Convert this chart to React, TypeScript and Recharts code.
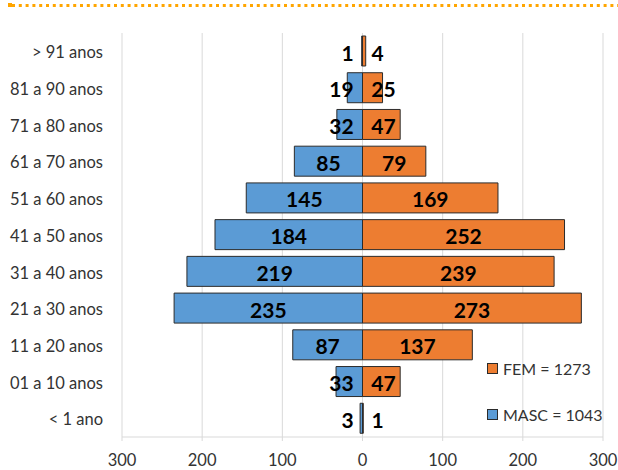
import { BarChart, Bar, XAxis, YAxis, CartesianGrid, LabelList } from "recharts";

const ageGroups = [
  "> 91 anos",
  "81 a 90 anos",
  "71 a 80 anos",
  "61 a 70 anos",
  "51 a 60 anos",
  "41 a 50 anos",
  "31 a 40 anos",
  "21 a 30 anos",
  "11 a 20 anos",
  "01 a 10 anos",
  "< 1 ano",
];
const masc = [1, 19, 32, 85, 145, 184, 219, 235, 87, 33, 3];
const fem = [4, 25, 47, 79, 169, 252, 239, 273, 137, 47, 1];
const xTicks = [-300, -200, -100, 0, 100, 200, 300];

const BLUE = "#5B9BD5";
const ORANGE = "#ED7D31";
const EDGE = "#2b2b2b";
const FONT = "Lato, 'Open Sans', sans-serif";

const data = ageGroups.map((age, i) => ({ age, masc: -masc[i], fem: fem[i] }));
const totalMasc = masc.reduce((a, b) => a + b, 0);
const totalFem = fem.reduce((a, b) => a + b, 0);

function makeLabel(values: number[], side: "left" | "right") {
  return (props: any) => {
    const { x, y, width, height, index } = props;
    const text = String(values[index]);
    const w = text.length * 12;
    const lo = Math.min(x, x + width);
    const hi = Math.max(x, x + width);
    const mid = (lo + hi) / 2;
    // small bars: push the number out past the zero line
    const cx = side === "left" ? Math.min(mid, hi - 9 - w / 2) : Math.max(mid, lo + 9 + w / 2);
    return (
      <text
        x={cx}
        y={y + height / 2 + 1}
        textAnchor="middle"
        dominantBaseline="central"
        fontFamily={FONT}
        fontWeight={700}
        fontSize={21}
        fill="#000"
      >
        {text}
      </text>
    );
  };
}

export default function App() {
  return (
    <div style={{ position: "absolute", left: 0, top: 0, width: 618, height: 470, background: "#fff" }}>
      <svg width={618} height={12} style={{ position: "absolute", left: 0, top: 0 }}>
        <rect x={8} y={3} width={4} height={4} fill="#FFA500" />
        <line x1={12} y1={5.5} x2={618} y2={5.5} stroke="#FFA500" strokeWidth={3} strokeDasharray="3 3.8" />
      </svg>
      <BarChart
        width={618}
        height={470}
        data={data}
        layout="vertical"
        stackOffset="sign"
        barSize={30}
        margin={{ top: 33, right: 15, left: 0, bottom: 0 }}
        style={{ position: "absolute", left: 0, top: 0 }}
      >
        <CartesianGrid horizontal={false} stroke="#d9d9d9" />
        <XAxis
          type="number"
          domain={[-300, 300]}
          ticks={xTicks}
          tickFormatter={(v: number) => String(Math.abs(v))}
          stroke="#d9d9d9"
          tickSize={4}
          tickMargin={13}
          height={33}
          tick={{ fill: "#333", fontSize: 16.5, fontFamily: FONT }}
        />
        <YAxis
          type="category"
          dataKey="age"
          width={122}
          axisLine={false}
          tickLine={false}
          tickMargin={13}
          tick={{ fill: "#333", fontSize: 16.5, fontFamily: FONT, dy: 1 }}
        />
        <Bar dataKey="masc" stackId="a" fill={BLUE} stroke={EDGE} strokeWidth={1} isAnimationActive={false}>
          <LabelList dataKey="masc" content={makeLabel(masc, "left")} />
        </Bar>
        <Bar dataKey="fem" stackId="a" fill={ORANGE} stroke={EDGE} strokeWidth={1} isAnimationActive={false}>
          <LabelList dataKey="fem" content={makeLabel(fem, "right")} />
        </Bar>
      </BarChart>
      <div style={{ position: "absolute", left: 487, top: 358, fontFamily: FONT, fontSize: 16, color: "#333" }}>
        <div style={{ display: "flex", alignItems: "center", height: 20 }}>
          <span style={{ width: 9, height: 9, background: ORANGE, border: `1px solid ${EDGE}`, marginRight: 5 }} />
          FEM = {totalFem}
        </div>
        <div style={{ display: "flex", alignItems: "center", height: 20, marginTop: 26 }}>
          <span style={{ width: 9, height: 9, background: BLUE, border: `1px solid ${EDGE}`, marginRight: 5 }} />
          MASC = {totalMasc}
        </div>
      </div>
    </div>
  );
}
